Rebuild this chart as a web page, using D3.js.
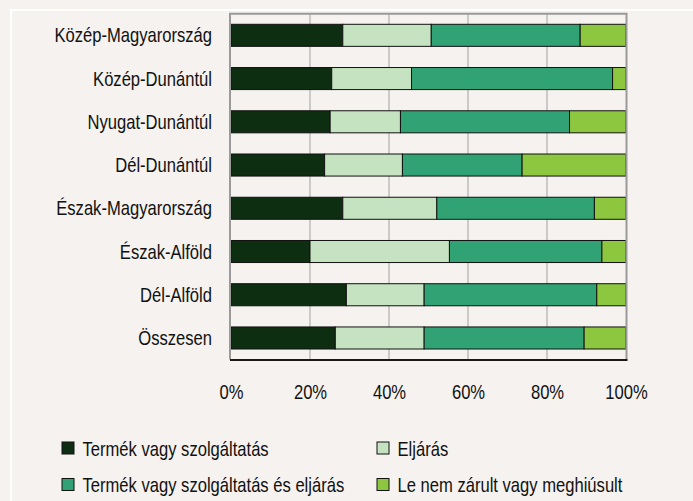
<!DOCTYPE html>
<html>
<head>
<meta charset="utf-8">
<script src="https://cdn.jsdelivr.net/npm/d3@7"></script>
<style>
  body { margin: 0; background: #f5f2ef; }
  svg { display: block; }
  text { font-family: "Liberation Sans", Arial, sans-serif; fill: #111; font-size: 20px; }
</style>
</head>
<body>
<div id="chart"></div>
<script>
// regions, top to bottom
var regions = ['Közép-Magyarország', 'Közép-Dunántúl', 'Nyugat-Dunántúl', 'Dél-Dunántúl',
  'Észak-Magyarország', 'Észak-Alföld', 'Dél-Alföld', 'Összesen'];

// shares in %, one array per series
var termek = [28.3, 25.5, 25.1, 23.7, 28.3, 20.0, 29.2, 26.4];
var eljaras = [22.4, 20.2, 17.8, 19.7, 23.8, 35.3, 19.7, 22.5];
var mindketto = [37.7, 50.9, 42.8, 30.3, 39.9, 38.6, 43.7, 40.5];
var lezaratlan = [11.6, 3.4, 14.3, 26.3, 8.0, 6.1, 7.4, 10.6];

var seriesNames = ['Termék vagy szolgáltatás', 'Eljárás',
  'Termék vagy szolgáltatás és eljárás', 'Le nem zárult vagy meghiúsult'];
var tickValues = [0, 20, 40, 60, 80, 100];

var colors = ['#0e2e12', '#c5e3c1', '#31a273', '#8dc63f'];

var width = 693, height = 501;
var x0 = 231, x1 = 626, y0 = 13.7, y1 = 359.6;
var squeeze = 0.83;  // the source uses a narrow face, no narrow font here

var svg = d3.select('#chart').append('svg')
  .attr('width', width)
  .attr('height', height);

// white frame of the figure
svg.append('rect')
  .attr('x', 11).attr('y', 10)
  .attr('width', width + 10).attr('height', height + 10)
  .style('fill', 'none')
  .style('stroke', '#ffffff')
  .style('stroke-width', 2);

var x = d3.scaleLinear().domain([0, 100]).range([x0, x1]);
var y = d3.scaleBand().domain(regions).range([y0, y1])
  .paddingInner(0.49).paddingOuter(0.245);

// gridlines
svg.append('g')
  .selectAll('line')
  .data([20, 40, 60, 80])
  .enter().append('line')
  .attr('x1', function(d) { return x(d); })
  .attr('x2', function(d) { return x(d); })
  .attr('y1', y0)
  .attr('y2', y1)
  .style('stroke', '#bdbdbd')
  .style('stroke-width', 1.5);

// stacked bars
var rows = regions.map(function(r, i) {
  return { region: r, 0: termek[i], 1: eljaras[i], 2: mindketto[i], 3: lezaratlan[i] };
});
var stack = d3.stack().keys([0, 1, 2, 3])(rows);

svg.append('g')
  .selectAll('g')
  .data(stack)
  .enter().append('g')
  .style('fill', function(d, i) { return colors[i]; })
  .selectAll('rect')
  .data(function(d) { return d; })
  .enter().append('rect')
  .attr('x', function(d) { return x(d[0]); })
  .attr('y', function(d) { return y(d.data.region); })
  .attr('width', function(d) { return x(d[1]) - x(d[0]); })
  .attr('height', y.bandwidth())
  .style('stroke', '#111')
  .style('stroke-width', 1);

// plot frame: gray on three sides, black at the bottom
svg.append('path')
  .attr('d', 'M' + (x0 - 1) + ',' + y1 + 'V' + y0 + 'H' + (x1 + 0.5) + 'V' + y1)
  .style('fill', 'none')
  .style('stroke', '#9a9a9a')
  .style('stroke-width', 2);
svg.append('line')
  .attr('x1', x0 - 1).attr('x2', x1 + 1.5)
  .attr('y1', y1 + 0.5).attr('y2', y1 + 0.5)
  .style('stroke', '#1a1a1a')
  .style('stroke-width', 2);

// x axis labels
var xAxis = svg.append('g')
  .attr('transform', 'translate(0,' + 392 + ')')
  .call(d3.axisBottom(x).tickValues(tickValues).tickSize(0).tickPadding(0)
    .tickFormat(function(d) { return d + '%'; }));
xAxis.select('.domain').remove();
xAxis.selectAll('text')
  .attr('dy', '0.35em')
  .attr('transform', 'scale(' + squeeze + ',1)');
xAxis.attr('font-size', null).attr('font-family', null);

// y axis labels
var yAxis = svg.append('g')
  .attr('transform', 'translate(' + 212 + ',0)')
  .call(d3.axisLeft(y).tickSize(0).tickPadding(0));
yAxis.select('.domain').remove();
yAxis.selectAll('text')
  .attr('dy', '0.35em')
  .attr('transform', 'scale(' + squeeze + ',1)');
yAxis.attr('font-size', null).attr('font-family', null);

// legend, two columns
var legendPos = [[62, 442], [377, 442], [62, 478.5], [377, 478.5]];
var legend = svg.append('g')
  .selectAll('g')
  .data(seriesNames)
  .enter().append('g')
  .attr('transform', function(d, i) { return 'translate(' + legendPos[i][0] + ',' + legendPos[i][1] + ')'; });

legend.append('rect')
  .attr('width', 12)
  .attr('height', 12)
  .style('fill', function(d, i) { return colors[i]; })
  .style('stroke', '#111')
  .style('stroke-width', 1);

legend.append('text')
  .attr('x', 20.5 / squeeze)
  .attr('y', 6.5)
  .attr('dy', '0.35em')
  .attr('transform', 'scale(' + squeeze + ',1)')
  .text(function(d) { return d; });
</script>
</body>
</html>
